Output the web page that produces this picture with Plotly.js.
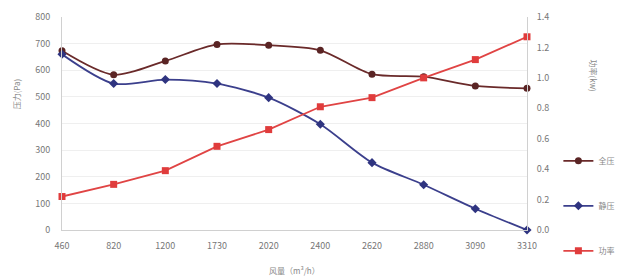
<!DOCTYPE html>
<html><head><meta charset="utf-8">
<script src="https://cdn.plot.ly/plotly-3.0.1.min.js"></script>
<style>html,body{margin:0;padding:0;background:#fff}#c{width:617px;height:280px}</style>
</head><body><div id="c"></div>
<script>
const categories = ['460','820','1200','1730','2020','2400','2620','2880','3090','3310'];
const totalPressure = [673, 583, 635, 697, 694, 675, 585, 576, 541, 532];
const staticPressure = [660, 550, 565, 550, 497, 397, 253, 170, 80, 0];
const power = [0.22, 0.30, 0.39, 0.55, 0.66, 0.81, 0.87, 1.00, 1.12, 1.27];
const names = ['全压', '静压', '功率'];

const font = "'Noto Sans CJK SC', 'Noto Sans', sans-serif";
const traces = [
  {x: categories, y: totalPressure, name: names[0], type: 'scatter', mode: 'lines+markers',
   line: {color: '#6a2a2a', width: 1.8, shape: 'spline', smoothing: 0.8},
   marker: {symbol: 'circle', size: 7, color: '#5a2424'}, legendgroup: 'a', cliponaxis: false},
  {x: categories, y: staticPressure, name: names[1], type: 'scatter', mode: 'lines+markers',
   line: {color: '#3b3f8c', width: 1.8, shape: 'spline', smoothing: 0.8},
   marker: {symbol: 'diamond', size: 7, color: '#2f3480'}, legendgroup: 'b', cliponaxis: false},
  {x: categories, y: power, name: names[2], type: 'scatter', mode: 'lines+markers', yaxis: 'y2',
   line: {color: '#e04444', width: 1.8},
   marker: {symbol: 'square', size: 7, color: '#e03c3c'}, legendgroup: 'c', cliponaxis: false}
];
const layout = {
  width: 617, height: 280,
  margin: {l: 62, r: 90, t: 17, b: 50, autoexpand: false},
  paper_bgcolor: '#fff', plot_bgcolor: '#fff',
  font: {family: font, size: 9, color: '#777'},
  showlegend: true,
  legend: {xref: 'container', yref: 'container', x: 0.905, xanchor: 'left', y: 0.265, yanchor: 'middle',
           tracegroupgap: 26, font: {size: 8, color: '#888'}, itemwidth: 30, bgcolor: 'rgba(0,0,0,0)'},
  xaxis: {type: 'category', range: [0, 9], showgrid: false, showline: true, linecolor: '#d0d0d0',
          ticks: 'outside', ticklen: 7, tickcolor: 'rgba(0,0,0,0)',
          tickfont: {size: 9, color: '#777'}, zeroline: false},
  yaxis: {range: [0, 800], dtick: 100, showgrid: true, gridcolor: '#efefef', showline: true,
          linecolor: '#d0d0d0', zeroline: false, ticks: 'outside', ticklen: 9, tickcolor: 'rgba(0,0,0,0)',
          tickfont: {size: 9, color: '#777'}},
  yaxis2: {range: [0, 1.4], dtick: 0.2, tickformat: '.1f', overlaying: 'y', side: 'right',
           showgrid: false, showline: true, linecolor: '#d0d0d0', zeroline: false,
           ticks: 'outside', ticklen: 7, tickcolor: 'rgba(0,0,0,0)',
           tickfont: {size: 9, color: '#777'}},
  annotations: [
    {text: '压力(Pa)', xref: 'paper', yref: 'paper', x: -0.09, xanchor: 'right', xshift: 4, y: 0.64, textangle: -90,
     showarrow: false, font: {size: 8, color: '#888'}},
    {text: '功率(kw)', xref: 'paper', yref: 'paper', x: 1.16, y: 0.81, textangle: 90,
     showarrow: false, font: {size: 8, color: '#888'}},
    {text: '风量（m³/h）', xref: 'paper', yref: 'paper', x: 0.5, y: -0.19, yanchor: 'middle',
     showarrow: false, font: {size: 8, color: '#888'}}
  ]
};
Plotly.newPlot('c', traces, layout, {displayModeBar: false, staticPlot: true});
</script></body></html>
